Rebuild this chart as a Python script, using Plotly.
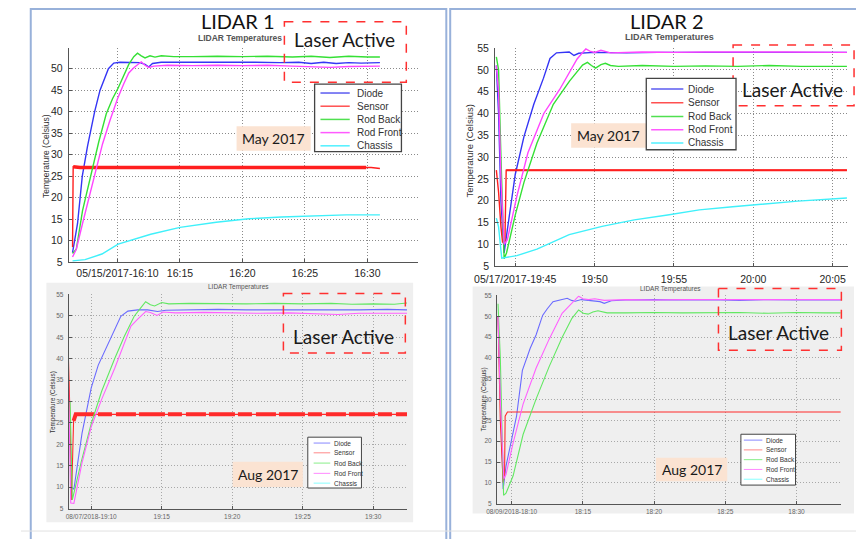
import plotly.graph_objects as go

W, H = 856, 539

# ---------------- DATA (minutes after the hour, temperature in Celsius) ----------------
SERIES = ["Diode", "Sensor", "Rod Back", "Rod Front", "Chassis"]

# LIDAR 1, May 2017 (minutes after 16:00)
L1M_diode_t = [6.4, 6.8, 7.18, 7.6, 8.17, 8.6, 9.27, 9.7, 10.2, 11.0, 11.8, 12.2, 12.5, 12.8, 13.5, 15, 17, 19, 21, 23, 24.5, 25.5, 26.5, 27.5, 28.5, 29.5, 31]
L1M_diode_v = [7.2, 14, 25, 32, 40, 45, 50, 51.3, 51.5, 51.4, 51.4, 51.0, 50.4, 51.2, 51.5, 51.5, 51.5, 51.6, 51.5, 51.4, 51.5, 51.2, 51.5, 51.2, 51.4, 51.3, 51.4]
L1M_sensor_t = [6.4, 6.45, 7, 10, 15, 20, 25, 29.9, 30.3, 31]
L1M_sensor_v = [8.5, 27.2, 27, 27, 27, 27, 27, 27, 27, 26.8]
L1M_back_t = [6.4, 6.7, 7.2, 7.85, 8.5, 9.1, 9.6, 10.05, 10.5, 10.9, 11.3, 11.6, 11.9, 12.2, 12.6, 13.0, 13.5, 14.5, 16, 18, 20, 22, 24, 25.5, 27, 28.5, 30, 31]
L1M_back_v = [7.0, 8, 17, 25, 33, 39.5, 43, 45.5, 48.5, 51, 52.8, 53.6, 53.0, 52.5, 53.0, 52.7, 53.0, 52.8, 52.8, 52.9, 52.8, 52.9, 52.7, 52.9, 52.6, 52.9, 52.7, 52.7]
L1M_front_t = [6.4, 6.7, 7.2, 7.8, 8.3, 8.8, 9.4, 10.0, 10.5, 10.9, 11.3, 11.6, 11.9, 12.2, 12.5, 12.9, 14, 16, 18, 20, 22, 24, 25.5, 27, 28.5, 30, 31]
L1M_front_v = [6.2, 8, 14, 21, 27, 32.5, 38, 43, 46.5, 49, 50.2, 51, 51.6, 50.8, 50.3, 50.6, 50.8, 50.7, 50.8, 50.7, 50.8, 50.6, 50.4, 50.3, 50.5, 50.6, 50.6]
L1M_chassis_t = [6.4, 7.4, 8.75, 10.05, 12.66, 15, 17.9, 20.5, 23.1, 25.7, 28.3, 31]
L1M_chassis_v = [5.3, 5.6, 6.9, 9.2, 11.5, 13.1, 14.3, 15.1, 15.5, 15.8, 16.0, 16.0]

# LIDAR 2, May 2017 (minutes after 19:00)
L2M_diode_t = [43.81, 43.95, 44.1, 44.3, 44.45, 45.0, 45.55, 46.17, 46.78, 47.19, 47.6, 48.4, 48.7, 49.0, 50, 52, 54, 56, 58, 60, 62, 64, 65.9]
L2M_diode_v = [51, 40, 20, 8, 12, 26, 34.7, 42.1, 48.1, 52.6, 53.9, 54.1, 53.3, 53.8, 54.0, 53.9, 54.0, 54.0, 54.1, 54.0, 54.1, 54.0, 54.0]
L2M_sensor_t = [43.81, 43.95, 44.1, 44.2, 44.35, 44.43, 46, 50, 55, 60, 65.9]
L2M_sensor_v = [27, 22, 14, 10.5, 10.5, 27, 27, 27, 27, 27, 27]
L2M_back_t = [43.81, 43.95, 44.1, 44.3, 44.45, 45.0, 45.55, 46.37, 47.4, 48.42, 49.24, 49.55, 49.8, 50.06, 50.4, 50.68, 51.0, 51.5, 53, 55, 57, 59, 61, 63, 65.9]
L2M_back_v = [53, 50, 30, 6.7, 8, 16.7, 24.2, 33.2, 42.1, 47.4, 51.1, 51.7, 51.0, 50.4, 51.2, 51.5, 51.0, 50.8, 51.0, 50.8, 50.9, 50.8, 51.0, 50.8, 50.8]
L2M_front_t = [43.81, 43.95, 44.1, 44.3, 44.5, 45.1, 45.8, 46.8, 47.8, 48.5, 48.9, 49.3, 49.45, 49.7, 50.0, 50.4, 50.7, 51, 53, 55, 57, 60, 62, 65.9]
L2M_front_v = [51, 45, 25, 10, 11, 21, 31, 40, 45.5, 50, 52.5, 54.2, 54.8, 54.3, 54.0, 54.5, 54.2, 53.9, 54.1, 54.0, 54.1, 54.0, 54.1, 54.0]
L2M_chassis_t = [43.81, 43.95, 44.15, 45.1, 46.37, 48.4, 50.47, 52.5, 54.6, 56.6, 58.7, 60.7, 62.8, 65.9]
L2M_chassis_v = [16, 14, 6.8, 7.4, 8.9, 12.2, 14.1, 15.6, 16.7, 17.9, 18.6, 19.3, 19.9, 20.6]

# LIDAR 1, Aug 2017 (minutes after 19:00)
L1A_diode_t = [8.6, 8.77, 9.35, 10.0, 10.5, 11.2, 11.66, 11.9, 12.1, 12.6, 13.3, 14.0, 14.7, 15.3, 17, 19, 21, 23, 25, 27, 29, 31, 32.4]
L1A_diode_v = [10, 9.5, 22.6, 33.2, 38.5, 43.4, 46.9, 48.4, 49.9, 51.1, 51.4, 51.4, 51.0, 51.3, 51.4, 51.5, 51.4, 51.4, 51.3, 51.4, 51.4, 51.5, 51.4]
L1A_sensor_t = [8.27, 8.5, 8.6, 8.75, 8.9, 12, 16, 20, 24, 28, 32.4]
L1A_sensor_v = [54, 26, 7, 25.5, 27, 27, 27, 27, 27, 27, 27]
L1A_back_t = [8.5, 8.66, 9.3, 10.0, 10.74, 11.66, 12.36, 13.05, 13.5, 13.86, 14.2, 14.5, 15.0, 15.5, 17, 19, 21, 23, 25, 27, 28.5, 30, 31.5, 32.4]
L1A_back_v = [30, 7.0, 16, 24.8, 32.4, 40, 45.3, 49.9, 51.8, 53.3, 52.6, 52.3, 53.1, 52.8, 52.9, 52.8, 52.8, 52.9, 52.8, 52.9, 52.7, 52.8, 52.7, 53.0]
L1A_front_t = [8.27, 8.55, 8.77, 9.35, 10.0, 10.74, 11.66, 12.36, 12.82, 13.28, 13.63, 13.86, 14.2, 14.67, 15.1, 16, 18, 20, 22, 24, 26, 27.5, 29, 31, 32.4]
L1A_front_v = [54, 6.3, 6.2, 15.7, 24.1, 30.5, 37.7, 43.4, 47.6, 49.2, 50.3, 51, 50.8, 50.1, 50.9, 50.7, 50.8, 50.7, 50.6, 50.7, 50.5, 50.3, 50.6, 50.5, 50.6]

# LIDAR 2, Aug 2017 (minutes after 18:00)
L2A_diode_t = [9.04, 9.2, 9.4, 9.6, 10.0, 10.34, 10.75, 11.0, 11.3, 11.71, 12.17, 12.5, 12.9, 13.54, 13.9, 14.2, 14.46, 14.9, 15.5, 16.2, 16.5, 17, 18, 20, 22, 24, 26, 28, 30, 32, 33.1]
L2A_diode_v = [50, 30, 8.5, 14, 20.6, 26, 37, 39.5, 42.3, 45.5, 50.2, 51.8, 53.5, 54, 54.3, 53.8, 53.6, 54, 53.8, 53.5, 53.1, 53.7, 53.9, 54, 53.9, 54, 53.8, 54, 53.9, 54, 53.9]
L2A_sensor_t = [9.04, 9.2, 9.4, 9.5, 9.54, 9.7, 12, 16, 20, 25, 30, 33.1]
L2A_sensor_v = [50, 25, 10, 12, 26, 27, 27, 27, 27, 27, 27, 27]
L2A_back_t = [9.04, 9.2, 9.43, 9.6, 10.1, 10.8, 11.71, 12.63, 13.54, 14.23, 14.7, 15.03, 15.37, 15.7, 16.06, 16.7, 18, 20, 22, 24, 26, 28, 30, 32, 33.1]
L2A_back_v = [53, 40, 7.0, 7.5, 11.7, 21.6, 30.1, 37.9, 44.9, 49.5, 51.5, 50.7, 50.5, 51, 51.3, 50.8, 50.8, 50.9, 50.8, 50.8, 50.9, 50.7, 50.9, 50.8, 50.8]
L2A_front_t = [9.04, 9.2, 9.45, 9.6, 10.1, 10.8, 11.71, 12.63, 13.54, 14.0, 14.4, 14.7, 15.0, 15.4, 15.83, 16.5, 18, 20, 22, 24, 26, 28, 30, 33.1]
L2A_front_v = [50, 30, 11, 12, 19.6, 28.9, 37.5, 44.5, 50.7, 52.3, 53.8, 54.8, 54.2, 54, 54.2, 53.8, 54, 53.9, 54, 54, 53.9, 54, 53.9, 54]

# Tick labels
Y_TICKS = [5, 10, 15, 20, 25, 30, 35, 40, 45, 50, 55]
L1M_xticks = [10, 15, 20, 25, 30]
L1M_xlabels = ["05/15/2017-16:10", "16:15", "16:20", "16:25", "16:30"]
L2M_xticks = [45, 50, 55, 60, 65]
L2M_xlabels = ["05/17/2017-19:45", "19:50", "19:55", "20:00", "20:05"]
L1A_xticks = [10, 15, 20, 25, 30]
L1A_xlabels = ["08/07/2018-19:10", "19:15", "19:20", "19:25", "19:30"]
L2A_xticks = [10, 15, 20, 25, 30]
L2A_xlabels = ["08/09/2018-18:10", "18:15", "18:20", "18:25", "18:30"]

# ---------------- helpers ----------------
def px(x):
    return x / W

def py(y):
    return 1 - y / H

TOP_COLORS = {"Diode": "#3535f5", "Sensor": "#ff1e1e", "Rod Back": "#35e035", "Rod Front": "#ff45ff", "Chassis": "#3ff0fa"}
BOT_COLORS = {"Diode": "#6a6aff", "Sensor": "#ff2a2a", "Rod Back": "#62e862", "Rod Front": "#ff60ff", "Chassis": "#70ffff"}
TOP_LEG = {"Diode": "#5b5bf0", "Sensor": "#ff5050", "Rod Back": "#50e050", "Rod Front": "#ff5aff", "Chassis": "#50f0ff"}
BOT_LEG = {"Diode": "#8888ff", "Sensor": "#ff8888", "Rod Back": "#88ee88", "Rod Front": "#ff88ff", "Chassis": "#88ffff"}

panels = [
    dict(n="", dom=(49, 407, 43, 262), xr=[6.1, 34.05], yr=[5, 54.8], xt=L1M_xticks, xl=L1M_xlabels, top=True,
         series=[("Diode", L1M_diode_t, L1M_diode_v), ("Sensor", L1M_sensor_t, L1M_sensor_v),
                 ("Rod Back", L1M_back_t, L1M_back_v), ("Rod Front", L1M_front_t, L1M_front_v),
                 ("Chassis", L1M_chassis_t, L1M_chassis_v)],
         band=(1, 8, 3.5, "solid"), xstand=1),
    dict(n="2", dom=(486, 848, 43, 266), xr=[43.73, 65.98], yr=[5, 55], xt=L2M_xticks, xl=L2M_xlabels, top=True,
         series=[("Diode", L2M_diode_t, L2M_diode_v), ("Sensor", L2M_sensor_t, L2M_sensor_v),
                 ("Rod Back", L2M_back_t, L2M_back_v), ("Rod Front", L2M_front_t, L2M_front_v),
                 ("Chassis", L2M_chassis_t, L2M_chassis_v)],
         band=(5, 11, 2.0, "solid"), xstand=3),
    dict(n="3", dom=(49, 396, 295, 514), xr=[8.41, 32.42], yr=[5, 55], xt=L1A_xticks, xl=L1A_xlabels, top=False,
         series=[("Diode", L1A_diode_t, L1A_diode_v), ("Sensor", L1A_sensor_t, L1A_sensor_v),
                 ("Rod Back", L1A_back_t, L1A_back_v), ("Rod Front", L1A_front_t, L1A_front_v)],
         band=(3, 11, 4.0, "26px,3px,14px,4px,20px,3px"), xstand=2),
    dict(n="4", dom=(488, 841, 296, 509), xr=[8.97, 33.15], yr=[5, 55], xt=L2A_xticks, xl=L2A_xlabels, top=False,
         series=[("Diode", L2A_diode_t, L2A_diode_v), ("Sensor", L2A_sensor_t, L2A_sensor_v),
                 ("Rod Back", L2A_back_t, L2A_back_v), ("Rod Front", L2A_front_t, L2A_front_v)],
         band=None, xstand=2),
]

fig = go.Figure()
shapes = []
annotations = []

# frames
shapes.append(dict(type="rect", xref="paper", yref="paper", x0=px(10), x1=px(436), y0=py(3), y1=py(560),
                   line=dict(color="#98b1da", width=2), layer="below"))
shapes.append(dict(type="rect", xref="paper", yref="paper", x0=px(440), x1=px(880), y0=py(3), y1=py(560),
                   line=dict(color="#98b1da", width=2), layer="below"))
shapes.append(dict(type="line", xref="paper", yref="paper", x0=px(0), x1=px(856), y0=py(537), y1=py(537),
                   line=dict(color="#e2e2e2", width=1), layer="below"))
# gray figure backgrounds for Aug plots
for (x0, y0, x1, y1) in [(26, 283, 402, 528), (463, 287, 854, 519)]:
    shapes.append(dict(type="rect", xref="paper", yref="paper", x0=px(x0), x1=px(x1), y0=py(y0), y1=py(y1),
                       fillcolor="#efefef", line=dict(width=0), layer="below"))

for p in panels:
    n = p["n"]
    xa = "x" + n
    ya = "y" + n
    cols = TOP_COLORS if p["top"] else BOT_COLORS
    for name, t, v in p["series"]:
        w = 1.4 if p["top"] else 1.1
        fig.add_trace(go.Scatter(x=t, y=v, mode="lines", name=name, line=dict(color=cols[name], width=w),
                                 xaxis=xa, yaxis=ya, showlegend=False, hoverinfo="skip"))
        if name == "Sensor" and p["band"]:
            i0, i1, bw, bd = p["band"]
            fig.add_trace(go.Scatter(x=t[i0:i1], y=v[i0:i1], mode="lines", name=name,
                                     line=dict(color=cols[name], width=bw, dash=bd),
                                     xaxis=xa, yaxis=ya, showlegend=False, hoverinfo="skip"))
    x0, x1, y0, y1 = p["dom"]
    fs = 10.5 if p["top"] else 6.5
    tcol = "#262626" if p["top"] else "#666"
    gcol = "#8a8a8a" if p["top"] else "#a8a8a8"
    xkey = "xaxis" + n
    ykey = "yaxis" + n
    fig.update_layout(**{
        xkey: dict(domain=[px(x0), px(x1)], range=p["xr"], anchor=ya, tickvals=p["xt"], ticktext=p["xl"],
                   showgrid=True, gridcolor=gcol, griddash="1px,2px", gridwidth=1, zeroline=False,
                   showline=True, linecolor="#555", linewidth=1, ticks="inside", ticklen=3, tickcolor="#555",
                   ticklabelstandoff=p["xstand"],
                   tickfont=dict(family="Liberation Sans, Arial", size=fs, color=tcol), fixedrange=True),
        ykey: dict(domain=[py(y1), py(y0)], range=p["yr"], anchor=xa, tickvals=Y_TICKS,
                   showgrid=True, gridcolor=gcol, griddash="1px,2px", gridwidth=1, zeroline=False,
                   showline=True, linecolor="#555", linewidth=1, ticks="inside", ticklen=3, tickcolor="#555",
                   ticklabelstandoff=3,
                   tickfont=dict(family="Liberation Sans, Arial", size=fs, color=tcol), fixedrange=True),
    })

# plot titles, axis titles
title_specs = [
    (224, 33, 8.5, True), (665, 32, 9, True), (223, 287, 6.5, False), (666, 289, 6.5, False)
]
for (x, y, s, b) in title_specs:
    annotations.append(dict(text="LIDAR Temperatures", x=px(x), y=py(y), xref="paper", yref="paper",
                            showarrow=False, xanchor="center", yanchor="middle",
                            font=dict(family="Liberation Sans, Arial", size=s, color="#555",
                                      weight="bold" if b else "normal")))
ytitle_specs = [(25, 153, 8.5), (460, 148, 9.5), (33, 405, 6.3), (475, 402, 6.5)]
for (x, y, s) in ytitle_specs:
    annotations.append(dict(text="Temperature (Celsius)", x=px(x), y=py(y), xref="paper", yref="paper",
                            showarrow=False, textangle=-90, xanchor="center", yanchor="middle",
                            font=dict(family="Liberation Sans, Arial", size=s, color="#333")))

# big headers
for (txt, x, y) in [("LIDAR 1", 222, 15), ("LIDAR 2", 662, 15)]:
    annotations.append(dict(text=txt, x=px(x), y=py(y), xref="paper", yref="paper", showarrow=False,
                            xanchor="center", yanchor="middle", font=dict(family="Lato", size=20, color="#111")))

# Laser Active boxes
laser_specs = [((270, 16, 395, 78), (332, 34)), ((730, 40, 854, 102), (791, 85)),
               ((269, 294, 394, 355), (331, 338)), ((715, 289, 841, 352), (777, 334))]
for (bx, (tx, ty)) in laser_specs:
    shapes.append(dict(type="rect", xref="paper", yref="paper", x0=px(bx[0]), x1=px(bx[2]),
                       y0=py(bx[1]), y1=py(bx[3]), line=dict(color="#ff3030", width=1.5, dash="dash")))
    annotations.append(dict(text="Laser Active", x=px(tx), y=py(ty), xref="paper", yref="paper",
                            showarrow=False, xanchor="center", yanchor="middle",
                            font=dict(family="Lato", size=19, color="#1a1a1a")))

# Date label boxes
date_specs = [("May 2017", (221, 123, 297, 148)), ("May 2017", (564, 120, 641, 145)),
              ("Aug 2017", (217, 466, 289, 492)), ("Aug 2017", (651, 462, 724, 486))]
for txt, bx in date_specs:
    shapes.append(dict(type="rect", xref="paper", yref="paper", x0=px(bx[0]), x1=px(bx[2]),
                       y0=py(bx[1]), y1=py(bx[3]), fillcolor="#fbe3d2", line=dict(width=0)))
    annotations.append(dict(text=txt, x=px((bx[0] + bx[2]) / 2), y=py((bx[1] + bx[3]) / 2),
                            xref="paper", yref="paper", showarrow=False, xanchor="center", yanchor="middle",
                            font=dict(family="Lato", size=14, color="#1a1a1a")))

# Legends (drawn as boxes with sample lines)
legend_specs = [
    dict(box=(301, 80, 390, 149), lx=(307, 337), tx=342, rows=[89, 102.5, 116, 129.5, 143], fs=10, cols=TOP_LEG, lw=1.5),
    dict(box=(641, 74, 733, 147), lx=(646, 679), tx=682, rows=[85, 99, 113, 126.5, 140], fs=10, cols=TOP_LEG, lw=1.5),
    dict(box=(294, 441, 349, 493), lx=(300, 317), tx=319, rows=[447, 457, 467.5, 478, 488], fs=6.5, cols=BOT_LEG, lw=1),
    dict(box=(738, 438, 794, 490), lx=(741, 760), tx=762, rows=[444, 454, 464, 474, 484], fs=6.5, cols=BOT_LEG, lw=1),
]
for L in legend_specs:
    b = L["box"]
    shapes.append(dict(type="rect", xref="paper", yref="paper", x0=px(b[0]), x1=px(b[2]), y0=py(b[1]), y1=py(b[3]),
                       fillcolor="white", line=dict(color="#444", width=1.3 if L["fs"] > 8 else 1)))
    for name, ry in zip(SERIES, L["rows"]):
        shapes.append(dict(type="line", xref="paper", yref="paper", x0=px(L["lx"][0]), x1=px(L["lx"][1]),
                           y0=py(ry), y1=py(ry), line=dict(color=L["cols"][name], width=L["lw"])))
        annotations.append(dict(text=name, x=px(L["tx"]), y=py(ry), xref="paper", yref="paper", showarrow=False,
                                xanchor="left", yanchor="middle",
                                font=dict(family="Liberation Sans, Arial", size=L["fs"], color="#333")))

fig.update_layout(width=W, height=H, margin=dict(l=0, r=0, t=0, b=0), paper_bgcolor="white",
                  plot_bgcolor="rgba(0,0,0,0)", showlegend=False, shapes=shapes, annotations=annotations)

fig.write_html("out.html", config={"displayModeBar": False},
               post_script="document.body.style.margin='0px';")
